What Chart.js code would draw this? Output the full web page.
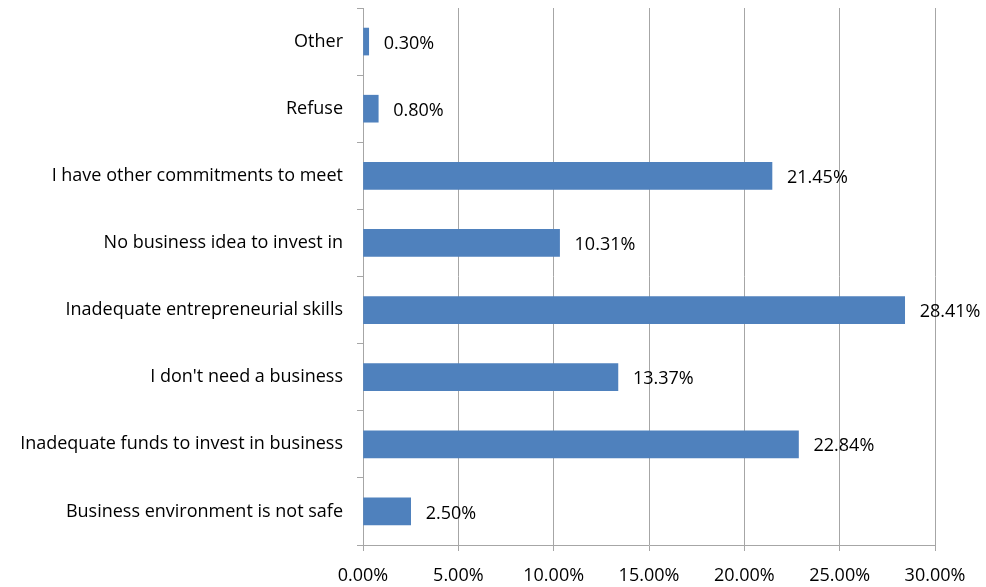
<!DOCTYPE html>
<html><head><meta charset="utf-8">
<script src="https://cdn.jsdelivr.net/npm/chart.js@4/dist/chart.umd.min.js"></script>
<style>html,body{margin:0;padding:0;background:#fff}#wrap{width:986px;height:587px}</style>
</head><body><div id="wrap"><canvas id="c" width="986" height="587"></canvas></div>
<script>
const categories = ["Other","Refuse","I have other commitments to meet","No business idea to invest in","Inadequate entrepreneurial skills","I don't need a business","Inadequate funds to invest in business","Business environment is not safe"];
const values = [0.30, 0.80, 21.45, 10.31, 28.41, 13.37, 22.84, 2.50];
const valueLabels = ["0.30%","0.80%","21.45%","10.31%","28.41%","13.37%","22.84%","2.50%"];

const FONT = "'Open Sans', sans-serif";
const FS = 18;
const labelPlugin = {
  id: 'barLabels',
  afterDatasetsDraw(chart) {
    const ctx = chart.ctx;
    const meta = chart.getDatasetMeta(0);
    ctx.save();
    ctx.font = FS + "px " + FONT;
    ctx.fillStyle = "#000";
    ctx.textAlign = "left";
    ctx.textBaseline = "middle";
    meta.data.forEach((el, i) => {
      ctx.fillText(valueLabels[i], el.x + 15, el.y + 2);
    });
    ctx.restore();
  }
};

new Chart(document.getElementById('c'), {
  type: 'bar',
  data: { labels: categories, datasets: [{ data: values, backgroundColor: '#4F81BD', barThickness: 27 }] },
  options: {
    indexAxis: 'y',
    responsive: false,
    animation: false,
    layout: { padding: { top: 8, right: 51, bottom: 0, left: 0 } },
    plugins: { legend: { display: false }, tooltip: { enabled: false } },
    scales: {
      x: {
        min: 0, max: 30,
        afterFit(s) { s.height = 42; },
        ticks: { stepSize: 5, color: '#000', font: { family: FONT, size: FS }, padding: 14,
          callback: v => v.toFixed(2) + '%' },
        grid: { color: '#A6A6A6', lineWidth: 1, tickLength: 6, drawTicks: true },
        border: { color: '#A6A6A6' }
      },
      y: {
        afterFit(s) { s.width = 363; s.paddingTop = 0; s.paddingBottom = 0; },
        ticks: { color: '#000', font: { family: FONT, size: FS }, padding: 14 },
        grid: { offset: true, drawOnChartArea: false, color: '#A6A6A6', tickLength: 6 },
        border: { color: '#A6A6A6' }
      }
    }
  },
  plugins: [labelPlugin]
});
</script></body></html>
